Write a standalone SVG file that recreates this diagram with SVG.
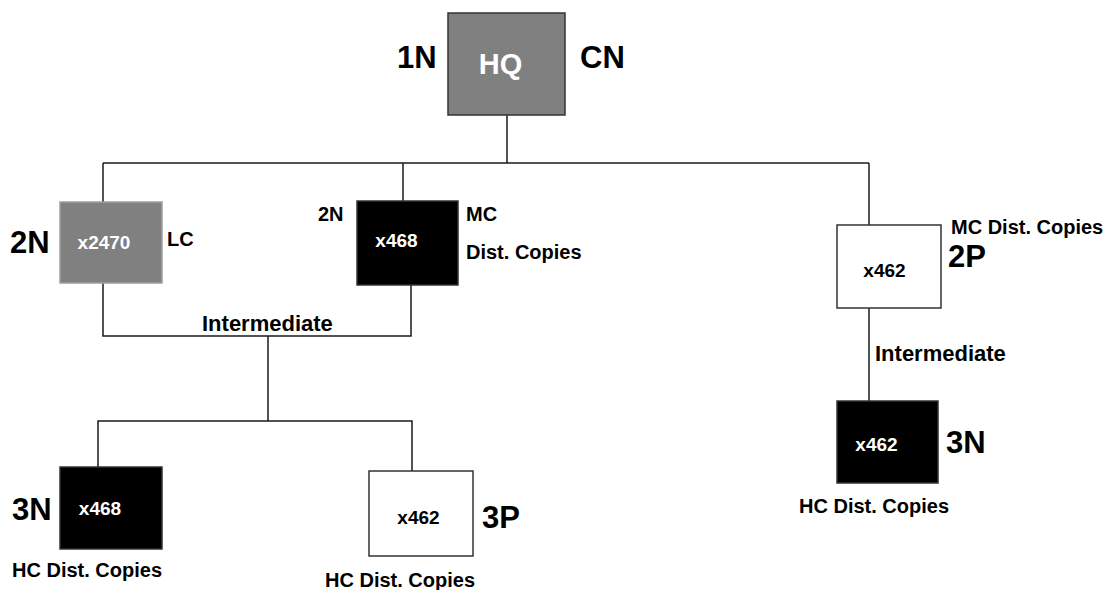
<svg xmlns="http://www.w3.org/2000/svg" width="1112" height="590" viewBox="0 0 1112 590">
<style>
text{font-family:"Liberation Sans",Arial,sans-serif;font-weight:bold;fill:#000}
.big{font-size:31px}
.mid{font-size:20px}
.lbl{font-size:19px;text-anchor:middle}
.w{fill:#fff}
.box{stroke:#333;stroke-width:1.5}
.gray{fill:#808080}
.blk{fill:#000}
.wht{fill:#fff}
#connectors path{fill:none;stroke:#1a1a1a;stroke-width:1.5}
</style>
<rect width="1112" height="590" fill="#fff"/>
<g id="connectors">
<path d="M507,115 V163"/>
<path d="M103,163 H869"/>
<path d="M103,163 V202"/>
<path d="M403,163 V201"/>
<path d="M869,163 V225"/>
<path d="M103,283 V336 H411 V285"/>
<path d="M268,336 V421"/>
<path d="M98,467 V421 H412 V471"/>
<path d="M869,308 V401"/>
</g>
<g id="hq">
<rect class="box gray" x="448" y="13" width="117" height="102"/>
<text class="w" x="500.5" y="74" font-size="29" text-anchor="middle">HQ</text>
<text class="big" x="397" y="68" font-size="30">1N</text>
<text class="big" x="580" y="68">CN</text>
</g>
<g id="lc">
<rect x="60" y="202" width="102" height="81" fill="#808080" stroke="#a0a0a0" stroke-width="1.5"/>
<text class="lbl w" x="104" y="249">x2470</text>
<text class="big" x="10" y="253" font-size="32">2N</text>
<text class="mid" x="167" y="246" font-weight="normal">LC</text>
</g>
<g id="mc">
<rect class="box blk" x="357" y="201" width="101" height="84"/>
<text class="lbl w" x="396.5" y="247">x468</text>
<text class="mid" x="318" y="221">2N</text>
<text class="mid" x="466" y="221">MC</text>
<text class="mid" x="466" y="259" font-size="21">Dist. Copies</text>
</g>
<g id="p2">
<rect class="box wht" x="837" y="225" width="104" height="83"/>
<text class="lbl" x="884.5" y="277">x462</text>
<text class="mid" x="951" y="234" font-size="19.5">MC Dist. Copies</text>
<text class="big" x="948" y="267">2P</text>
</g>
<g id="n3left">
<rect class="box blk" x="60" y="467" width="102" height="82"/>
<text class="lbl w" x="100" y="515">x468</text>
<text class="big" x="12" y="520">3N</text>
<text class="mid" x="12" y="577" font-size="20.5">HC Dist. Copies</text>
</g>
<g id="p3">
<rect class="box wht" x="369" y="471" width="104" height="85"/>
<text class="lbl" x="418.5" y="524">x462</text>
<text class="big" x="482" y="528" font-size="32">3P</text>
<text class="mid" x="325" y="587" font-size="20.5">HC Dist. Copies</text>
</g>
<g id="n3right">
<rect class="box blk" x="837" y="401" width="101" height="82"/>
<text class="lbl w" x="876.5" y="451">x462</text>
<text class="big" x="946" y="453">3N</text>
<text class="mid" x="799" y="513" font-size="21">HC Dist. Copies</text>
</g>
<g id="labels">
<text x="202" y="331" font-size="22">Intermediate</text>
<text x="875" y="361" font-size="22">Intermediate</text>
</g>
</svg>
